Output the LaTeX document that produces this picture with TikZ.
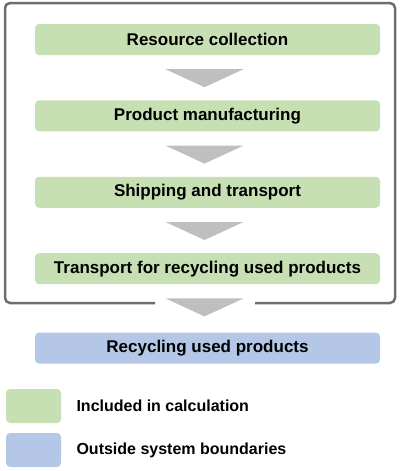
\documentclass[tikz,border=0pt]{standalone}
\usepackage{fontspec}
\setmainfont{Liberation Sans}
\usetikzlibrary{positioning,calc}
\definecolor{stepgreen}{HTML}{C6E0B4}
\definecolor{stepblue}{HTML}{B4C7E7}
\definecolor{arrowgray}{HTML}{BFBFBF}
\definecolor{framegray}{HTML}{6E6E6E}
\tikzset{
	stage/.style={fill=#1, rounded corners=4pt, minimum width=345pt, minimum height=31pt, inner sep=0pt, font=\fontsize{17}{20}\selectfont\bfseries},
	swatch/.style={fill=#1, rounded corners=4pt, minimum width=55pt, minimum height=34pt, inner sep=0pt},
	legendtext/.style={anchor=west, font=\fontsize{16}{19}\selectfont\bfseries},
}
\newcommand{\downtri}[1]{\fill[arrowgray] ($(#1.south)+(-42pt,-14pt)$) -- ($(#1.south)+(36pt,-14pt)$) -- ($(#1.south)+(-3pt,-32pt)$) -- cycle;}
\begin{document}
\begin{tikzpicture}[x=1pt,y=-1pt]
	\useasboundingbox (0,0) rectangle (400,471);
	
	\node[stage=stepgreen] (collect) at (207.5,39.5) {Resource collection};
	\node[stage=stepgreen, below=45pt of collect] (manuf) {Product manufacturing};
	\node[stage=stepgreen, below=45pt of manuf] (ship) {Shipping and transport};
	\node[stage=stepgreen, below=45pt of ship] (retour) {Transport for recycling used products};
	\node[stage=stepblue, below=48pt of retour] (recycle) {Recycling used products};
	
	\downtri{collect}
	\downtri{manuf}
	\downtri{ship}
	\downtri{retour}
	
	\draw[framegray, line width=2.5pt, rounded corners=5pt] (155,303) -- (5,303) -- (5,3) -- (395,3) -- (395,303) -- (255,303);
	
	\node[swatch=stepgreen] (lgreen) at (33.5,406) {};
	\node[swatch=stepblue] (lblue) at (33.5,450) {};
	\node[legendtext] at (73,406) {Included in calculation};
	\node[legendtext] at (73,450) {Outside system boundaries};
\end{tikzpicture}
\end{document}
